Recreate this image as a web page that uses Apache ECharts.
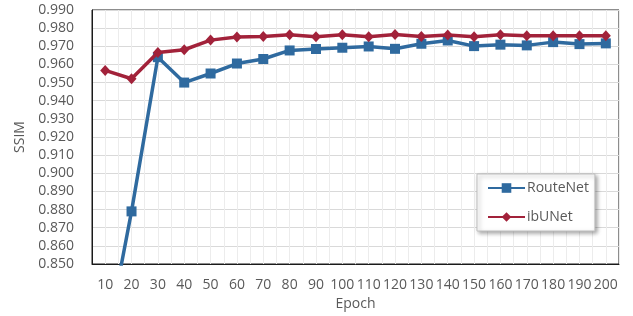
<!DOCTYPE html>
<html>
<head>
<meta charset="utf-8">
<style>
  html, body { margin: 0; padding: 0; background: #fff; }
  #main { width: 633px; height: 316px; }
</style>
</head>
<body>
<div id="main"></div>
<script src="https://cdn.jsdelivr.net/npm/echarts@6/dist/echarts.min.js"></script>
<script type="text/javascript">
    // epochs on the x axis
    var epochs = ['10', '20', '30', '40', '50', '60', '70', '80', '90', '100',
        '110', '120', '130', '140', '150', '160', '170', '180', '190', '200'];
    // SSIM values
    var routeNet = [0.803, 0.879, 0.964, 0.950, 0.955, 0.9605, 0.963, 0.9677, 0.9685, 0.9692,
        0.9699, 0.9686, 0.9714, 0.9732, 0.9701, 0.9709, 0.9705, 0.9723, 0.9712, 0.9716];
    var ibUNet = [0.9567, 0.9521, 0.9666, 0.9681, 0.9734, 0.9751, 0.9754, 0.9764, 0.9753, 0.9764,
        0.9753, 0.9765, 0.9754, 0.9762, 0.9753, 0.9764, 0.9758, 0.9758, 0.9758, 0.9758];

    var font = 'Open Sans';
    var textColor = '#595959';

    var myChart = echarts.init(document.getElementById('main'));
    var option = {
        animation: false,
        grid: {
            left: 92, right: 14, top: 10, bottom: 52,
            show: true,
            borderColor: '#1a1a1a',
            borderWidth: 1
        },
        legend: {
            orient: 'vertical',
            left: 477,
            top: 174,
            padding: [7, 6, 7, 10],
            itemWidth: 37,
            itemHeight: 12,
            itemGap: 15,
            backgroundColor: '#fff',
            borderColor: '#bfbfbf',
            borderWidth: 1,
            shadowColor: 'rgba(0,0,0,0.35)',
            shadowBlur: 4,
            shadowOffsetX: 2,
            shadowOffsetY: 2,
            textStyle: {fontFamily: font, fontSize: 14, color: textColor, padding: [0, 0, 0, -3]},
            data: ['RouteNet', 'ibUNet']
        },
        xAxis: [{
            type: 'category',
            data: epochs,
            boundaryGap: true,
            name: 'Epoch',
            nameLocation: 'middle',
            nameGap: 32,
            nameTextStyle: {fontFamily: font, fontSize: 14, color: textColor},
            axisLine: {lineStyle: {color: '#1a1a1a', width: 1}},
            axisTick: {show: false},
            axisLabel: {fontFamily: font, fontSize: 14, color: textColor, margin: 14, interval: 0},
            splitLine: {show: false}
        }, {
            // helper axis: light vertical grid every half category
            type: 'value',
            min: 0,
            max: 20,
            interval: 0.5,
            show: true,
            position: 'bottom',
            axisLine: {show: false},
            axisTick: {show: false},
            axisLabel: {show: false},
            splitLine: {show: true, lineStyle: {color: '#ececec', width: 1}}
        }],
        yAxis: {
            type: 'value',
            min: 0.85,
            max: 0.99,
            interval: 0.01,
            name: 'SSIM',
            nameLocation: 'middle',
            nameGap: 59,
            nameTextStyle: {fontFamily: font, fontSize: 14, color: textColor},
            axisLine: {show: true, lineStyle: {color: '#1a1a1a', width: 1}},
            axisTick: {show: false},
            axisLabel: {
                fontFamily: font, fontSize: 14, color: textColor, margin: 18,
                formatter: function (v) { return v.toFixed(3); }
            },
            splitLine: {show: true, lineStyle: {color: '#d9d9d9', width: 1}}
        },
        series: [
            {
                name: 'RouteNet',
                type: 'line',
                xAxisIndex: 0,
                data: routeNet,
                color: '#2F6A9F',
                symbol: 'rect',
                symbolSize: 10,
                clip: true,
                lineStyle: {width: 3.5},
                z: 3
            },
            {
                name: 'ibUNet',
                type: 'line',
                xAxisIndex: 0,
                data: ibUNet,
                color: '#A2223A',
                symbol: 'diamond',
                symbolSize: [10, 11],
                clip: true,
                lineStyle: {width: 3.5},
                z: 4
            }
        ]
    };
    myChart.setOption(option);
</script>
</body>
</html>
